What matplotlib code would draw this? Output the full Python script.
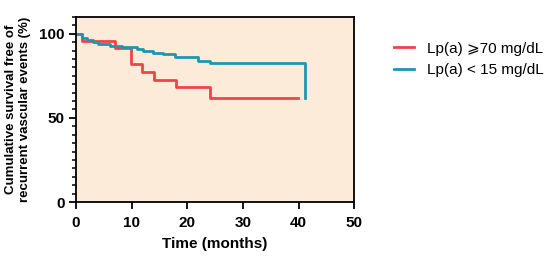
import matplotlib
matplotlib.use("Agg")
import matplotlib.pyplot as plt
from matplotlib.ticker import MultipleLocator

plt.rcParams["font.family"] = ["Liberation Sans", "DejaVu Sans"]

# Kaplan-Meier steps (time in months, survival in %)
high_time = [0, 1.0, 7.0, 9.9, 11.9, 14.0, 18.0, 24.0, 39.9]
high_surv = [100, 95.6, 91.3, 82.3, 77.4, 72.8, 68.3, 62.0, 62.0]

low_time = [0, 1.0, 1.9, 3.1, 4.0, 6.1, 8.2, 10.9, 12.1, 13.9, 15.7, 17.8,
            22.0, 24.1, 41.1, 41.1]
low_surv = [100, 97.6, 96.2, 95.0, 94.0, 93.0, 92.3, 91.0, 89.7, 88.7, 87.7,
            86.0, 84.0, 82.7, 82.7, 62.0]

labels = ["Lp(a) \u2a7e70 mg/dL", "Lp(a) < 15 mg/dL"]
colors = ["#EF434A", "#1F96AF"]

fig = plt.figure(figsize=(5.51, 2.57), dpi=100)
ax = fig.add_axes([0.138, 0.214, 0.505, 0.72])
ax.set_facecolor("#FDEBDA")

ax.step(high_time, high_surv, where="post", color=colors[0], lw=2.0, label=labels[0])
ax.step(low_time, low_surv, where="post", color=colors[1], lw=2.0, label=labels[1])

ax.set_xlim(0, 50)
ax.set_ylim(0, 110)
ax.set_xticks([0, 10, 20, 30, 40, 50])
ax.set_yticks([0, 50, 100])
ax.yaxis.set_minor_locator(MultipleLocator(5))
ax.tick_params(axis="both", which="major", length=5, width=1.3, labelsize=11,
               pad=3)
ax.tick_params(axis="x", which="major", pad=5)
ax.tick_params(axis="y", which="minor", length=3, width=1.1)
for lab in ax.get_xticklabels() + ax.get_yticklabels():
    lab.set_fontweight("bold")
for sp in ax.spines.values():
    sp.set_linewidth(1.3)

ax.set_xlabel("Time (months)", fontsize=11, fontweight="bold", labelpad=5)
ax.set_ylabel("Cumulative survival free of\nrecurrent vascular events (%)",
              fontsize=9.5, fontweight="bold", labelpad=6)

ax.legend(loc="upper left", bbox_to_anchor=(1.12, 0.90), borderaxespad=0,
          frameon=False, fontsize=11, handlelength=1.3, handletextpad=0.9,
          labelspacing=0.5)

fig.savefig("out.png", dpi=100)
